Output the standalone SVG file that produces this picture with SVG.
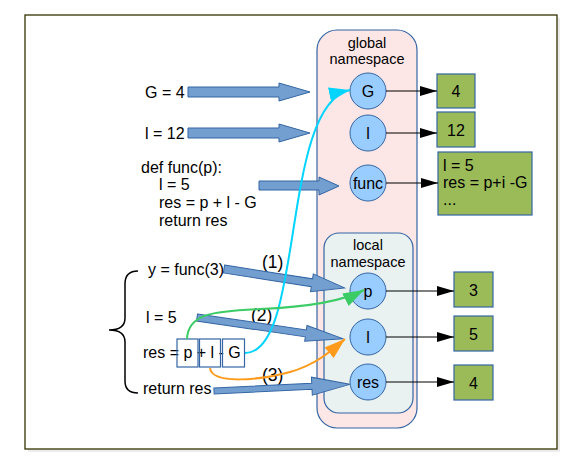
<svg xmlns="http://www.w3.org/2000/svg" width="583" height="467" viewBox="0 0 583 467">
<defs>
<style>
text{font-family:"Liberation Sans",Arial,sans-serif;fill:#000}
.t{font-size:16px}
.lb{font-size:17.5px}
.ns{font-size:14.5px;text-anchor:middle}
.c{font-size:16px;text-anchor:middle}
.circ{fill:#99ccff;stroke:#3465a4;stroke-width:1}
.val{fill:#9bbb59;stroke:#3465a4;stroke-width:1.2}
.blk{fill:#729fcf;stroke:#3465a4;stroke-width:1}
.ln{stroke:#000;stroke-width:1.2;fill:none;marker-end:url(#ah)}
.vbox{fill:none;stroke:#3465a4;stroke-width:1.2}
</style>
<marker id="ah" markerUnits="userSpaceOnUse" markerWidth="18" markerHeight="10" refX="17" refY="5" orient="auto"><path d="M0,0 L17,5 L0,10 Z" fill="#000"/></marker>
<marker id="ahC" markerUnits="userSpaceOnUse" markerWidth="22" markerHeight="14" refX="21" refY="7" orient="auto"><path d="M0,0 L21,7 L0,14 Z" fill="#00d4ff"/></marker>
<marker id="ahG" markerUnits="userSpaceOnUse" markerWidth="22" markerHeight="14" refX="21" refY="7" orient="auto"><path d="M0,0 L21,7 L0,14 Z" fill="#3ccc66"/></marker>
<marker id="ahO" markerUnits="userSpaceOnUse" markerWidth="22" markerHeight="14" refX="21" refY="7" orient="auto"><path d="M0,0 L21,7 L0,14 Z" fill="#ff9a1a"/></marker>
</defs>
<rect x="28" y="18" width="532" height="434" fill="#ececec"/>
<rect id="frame" x="25" y="15" width="532" height="434" fill="#fff" stroke="#333300" stroke-width="1.3"/>

<g id="global-namespace">
<rect x="317" y="30" width="100" height="398" rx="20" fill="#fde7e6" stroke="#3465a4" stroke-width="1.2"/>
<text class="ns" x="367" y="48">global</text>
<text class="ns" x="367" y="64">namespace</text>
</g>
<g id="local-namespace">
<rect x="324" y="233" width="89" height="180" rx="15" fill="#e9f1f1" stroke="#3465a4" stroke-width="1.2"/>
<text class="ns" x="368" y="250">local</text>
<text class="ns" x="368" y="267">namespace</text>
</g>

<g id="node-G"><circle class="circ" cx="368" cy="91" r="18"/><text class="c" x="368" y="97">G</text></g>
<g id="node-l-global"><circle class="circ" cx="368" cy="133" r="18"/><text class="c" x="368" y="139">l</text></g>
<g id="node-func"><circle class="circ" cx="368" cy="183" r="18"/><text class="c" x="368" y="189">func</text></g>
<g id="node-p"><circle class="circ" cx="368" cy="291" r="18"/><text class="c" x="368" y="297">p</text></g>
<g id="node-l-local"><circle class="circ" cx="368" cy="337" r="18"/><text class="c" x="368" y="343">l</text></g>
<g id="node-res"><circle class="circ" cx="368" cy="382" r="18"/><text class="c" x="368" y="388">res</text></g>

<g id="val-4"><rect class="val" x="437" y="74" width="38" height="34"/><text class="c" x="456" y="97">4</text></g>
<g id="val-12"><rect class="val" x="437" y="112" width="38" height="35"/><text class="c" x="456" y="136">12</text></g>
<g id="val-func"><rect class="val" x="438" y="152" width="94" height="63"/>
<text class="t" x="443" y="171">l = 5</text>
<text class="t" x="443" y="188">res = p+i -G</text>
<text class="t" x="443" y="205">...</text></g>
<g id="val-3"><rect class="val" x="454" y="272" width="39" height="35"/><text class="c" x="473.5" y="296">3</text></g>
<g id="val-5"><rect class="val" x="454" y="316" width="39" height="35"/><text class="c" x="473.5" y="340">5</text></g>
<g id="val-4b"><rect class="val" x="454" y="365" width="39" height="35"/><text class="c" x="473.5" y="389">4</text></g>

<g id="code-global">
<text class="t" x="145" y="98">G = 4</text>
<text class="t" x="145" y="139">l = 12</text>
<text class="t" x="141" y="173">def func(p):</text>
<text class="t" x="159" y="190">l = 5</text>
<text class="t" x="159" y="208">res = p + l - G</text>
<text class="t" x="159" y="226">return res</text>
</g>

<g id="code-call">
<path d="M138,271 C129,271 125,275 125,284 L125,318 C125,326 120,330 109,330 C120,330 125,334 125,342 L125,381 C125,389 129,393 138,393" fill="none" stroke="#000" stroke-width="1.5"/>
<text class="t" x="148" y="275">y = func(3)</text>
<text class="t" x="146" y="323">l = 5</text>
<text class="t" x="143" y="358">res = p + l - G</text>
<text class="t" x="143" y="394">return res</text>
<rect class="vbox" x="177" y="339" width="21" height="28"/>
<rect class="vbox" x="199.5" y="339" width="21" height="28"/>
<rect class="vbox" x="222.5" y="339" width="22" height="28"/>
<text class="lb" x="262" y="268">(1)</text>
<text class="lb" x="251" y="321">(2)</text>
<text class="lb" x="262" y="381">(3)</text>
</g>

<g id="connectors">
<polygon class="blk" points="188,87 279,87 279,83 310,92 279,101 279,97 188,97"/>
<polygon class="blk" points="188,128 279,128 279,124 310,133 279,142 279,138 188,138"/>
<polygon class="blk" points="259,181 319,181 319,177 339,186 319,195 319,190 259,190"/>
<polygon class="blk" transform="translate(224,269) rotate(8.9)" points="0,-4 89,-4 89,-9 122,0 89,9 89,4 0,4"/>
<polygon class="blk" transform="translate(197,317.5) rotate(8.3)" points="0,-3.5 110,-3.5 110,-8 148,0 110,8 110,3.5 0,3.5"/>
<polygon class="blk" transform="translate(214,391) rotate(-2.8)" points="0,-3 98,-3 98,-9 136,0 98,9 98,3 0,3"/>
<line class="ln" x1="386" y1="91" x2="437" y2="91"/>
<line class="ln" x1="386" y1="133" x2="437" y2="133"/>
<line class="ln" x1="386" y1="183" x2="438" y2="183"/>
<line class="ln" x1="386" y1="291" x2="454" y2="291"/>
<line class="ln" x1="386" y1="337" x2="454" y2="337"/>
<line class="ln" x1="386" y1="382" x2="454" y2="382"/>
<path d="M245,353 C305,353 280,105 350,90" fill="none" stroke="#00d4ff" stroke-width="2" marker-end="url(#ahC)"/>
<path d="M187,339 C188,314 212,311 260,309 C310,307 345,300 364,290" fill="none" stroke="#3ccc66" stroke-width="2" marker-end="url(#ahG)"/>
<path d="M210,368 C212,385 260,380 290,372 C315,365 330,352 345,339" fill="none" stroke="#ff9a1a" stroke-width="2" marker-end="url(#ahO)"/>
</g>
</svg>
